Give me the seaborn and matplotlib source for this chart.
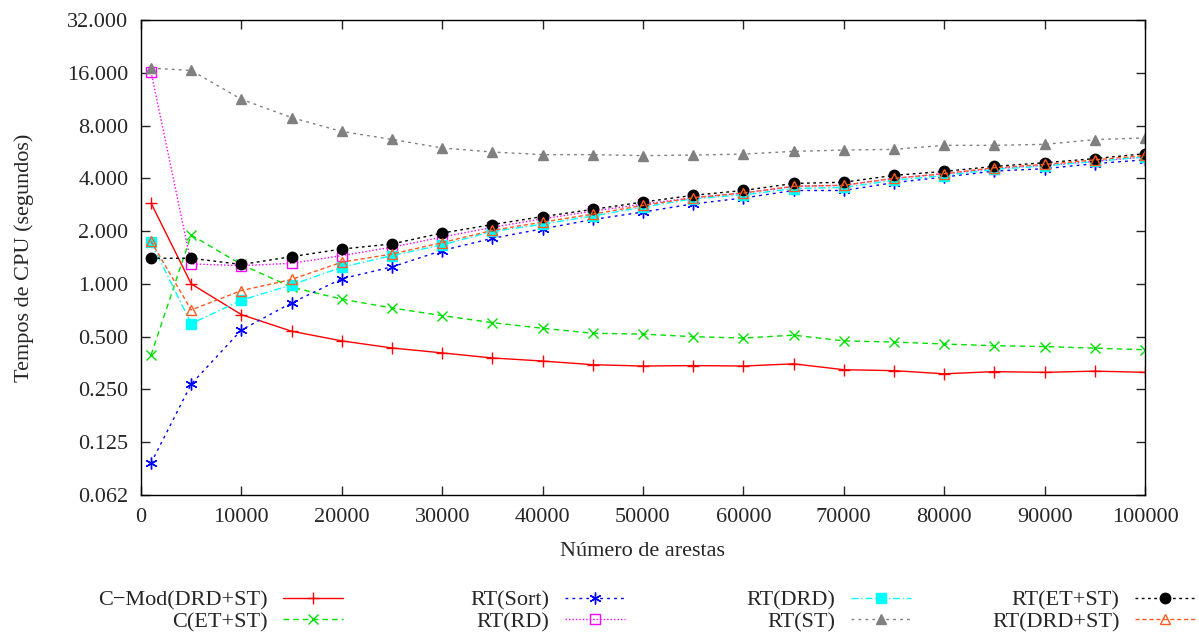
import matplotlib
matplotlib.use("Agg")
import matplotlib.pyplot as plt
import matplotlib.ticker as mticker
import seaborn as sns
import numpy as np

# numero de arestas
arestas = [1000, 5000, 10000, 15000, 20000, 25000, 30000, 35000, 40000, 45000, 50000,
           55000, 60000, 65000, 70000, 75000, 80000, 85000, 90000, 95000, 100000]

cmod_drd_st = [2.89, 1.00, 0.668, 0.537, 0.473, 0.431, 0.404, 0.378, 0.363, 0.346, 0.340,
               0.342, 0.340, 0.350, 0.324, 0.320, 0.307, 0.316, 0.313, 0.318, 0.313]
c_et_st = [0.393, 1.90, 1.29, 0.957, 0.818, 0.729, 0.659, 0.601, 0.558, 0.523, 0.517,
           0.500, 0.491, 0.510, 0.473, 0.466, 0.454, 0.444, 0.439, 0.430, 0.421]
rt_sort = [0.095, 0.268, 0.546, 0.779, 1.07, 1.25, 1.55, 1.82, 2.06, 2.33, 2.57,
           2.86, 3.09, 3.41, 3.41, 3.78, 4.07, 4.40, 4.54, 4.85, 5.10]
rt_rd = [16.2, 1.30, 1.27, 1.31, 1.45, 1.62, 1.85, 2.10, 2.35, 2.60, 2.85,
         3.10, 3.30, 3.60, 3.65, 4.00, 4.25, 4.55, 4.75, 5.00, 5.30]
rt_drd = [1.73, 0.593, 0.807, 0.987, 1.245, 1.45, 1.67, 1.99, 2.19, 2.44, 2.74,
          3.06, 3.22, 3.50, 3.55, 3.90, 4.15, 4.50, 4.70, 5.00, 5.30]
rt_st = [17.0, 16.5, 11.3, 8.88, 7.40, 6.67, 5.96, 5.65, 5.46, 5.46, 5.39,
         5.43, 5.50, 5.70, 5.80, 5.85, 6.17, 6.17, 6.25, 6.65, 6.80]
rt_et_st = [1.40, 1.40, 1.29, 1.43, 1.58, 1.69, 1.95, 2.18, 2.42, 2.66, 2.93,
            3.20, 3.41, 3.74, 3.80, 4.16, 4.38, 4.68, 4.91, 5.18, 5.53]
rt_drd_st = [1.75, 0.71, 0.916, 1.06, 1.33, 1.48, 1.72, 2.02, 2.25, 2.50, 2.80,
             3.10, 3.30, 3.60, 3.65, 4.00, 4.25, 4.60, 4.80, 5.10, 5.40]

nomes = ["C\u2212Mod(DRD+ST)", "C(ET+ST)", "RT(Sort)", "RT(RD)",
         "RT(DRD)", "RT(ST)", "RT(ET+ST)", "RT(DRD+ST)"]
series = [cmod_drd_st, c_et_st, rt_sort, rt_rd, rt_drd, rt_st, rt_et_st, rt_drd_st]

y_ticks = [0.0625, 0.125, 0.25, 0.5, 1, 2, 4, 8, 16, 32]
x_ticks = list(range(0, 100001, 10000))

cores = ["#ff0000", "#00e000", "#0000ff", "#ff00ff", "#00ffff", "#808080", "#000000", "#ff5a1f"]
estilos = [
    dict(linestyle="-", marker="+", markersize=8.5),
    dict(linestyle=(0, (4, 3)), marker="x", markersize=6.5),
    dict(linestyle=(0, (2, 3)), marker=(6, 2, 0), markersize=8.5),
    dict(linestyle=(0, (1, 1.5)), marker="s", markersize=7, markerfacecolor="none"),
    dict(linestyle=(0, (5, 2, 1, 2)), marker="s", markersize=6.5),
    dict(linestyle=(0, (2, 3)), marker="^", markersize=6.5),
    dict(linestyle=(0, (2, 2.5)), marker="o", markersize=7.5),
    dict(linestyle=(0, (3, 2)), marker="^", markersize=7, markerfacecolor="none"),
]

sns.set_style("ticks")
plt.rcParams["font.family"] = ["Liberation Serif", "DejaVu Serif"]
fs = 16

fig = plt.figure(figsize=(11.99, 6.32), dpi=100)
ax = fig.add_axes([141 / 1199, 1 - 495 / 632, (1145 - 141) / 1199, (495 - 20) / 632])

for nome, ys, cor, st in zip(nomes, series, cores, estilos):
    sns.lineplot(x=arestas, y=ys, ax=ax, color=cor, linewidth=1.0, legend=False,
                 errorbar=None, markeredgecolor=cor, markeredgewidth=1.0, **st)

ax.set_yscale("log", base=2)
ax.set_ylim(0.0625, 32)
ax.set_xlim(0, 100000)
ax.set_yticks(y_ticks)
ax.yaxis.set_major_formatter(mticker.FuncFormatter(lambda v, p: "%.3f" % (np.floor(v * 1000) / 1000)))
ax.yaxis.set_minor_locator(mticker.NullLocator())
ax.set_xticks(x_ticks)
ax.xaxis.set_major_formatter(mticker.FuncFormatter(lambda v, p: "%d" % v))
ax.tick_params(direction="in", top=True, right=True, length=6.5, width=1.0, labelsize=fs, pad=9)
for s in ax.spines.values():
    s.set_linewidth(1.0)
    s.set_color("black")

ax.set_xlabel("Número de arestas", fontsize=fs, labelpad=11)
ax.set_ylabel("Tempos de CPU (segundos)", fontsize=fs, labelpad=24)

# legenda em 4 colunas, texto a esquerda da amostra
linhas = ax.get_lines()
fim_col = [343, 625, 911, 1195]
for i, xr in enumerate(fim_col):
    fig.legend(linhas[2 * i:2 * i + 2], nomes[2 * i:2 * i + 2], loc="upper right",
               bbox_to_anchor=(xr / 1199, 1 - 590 / 632), frameon=False, markerfirst=False,
               borderpad=0, borderaxespad=0, handlelength=2.7, handletextpad=0.7,
               labelspacing=0.05, fontsize=fs)

fig.savefig("out.png", dpi=100)
